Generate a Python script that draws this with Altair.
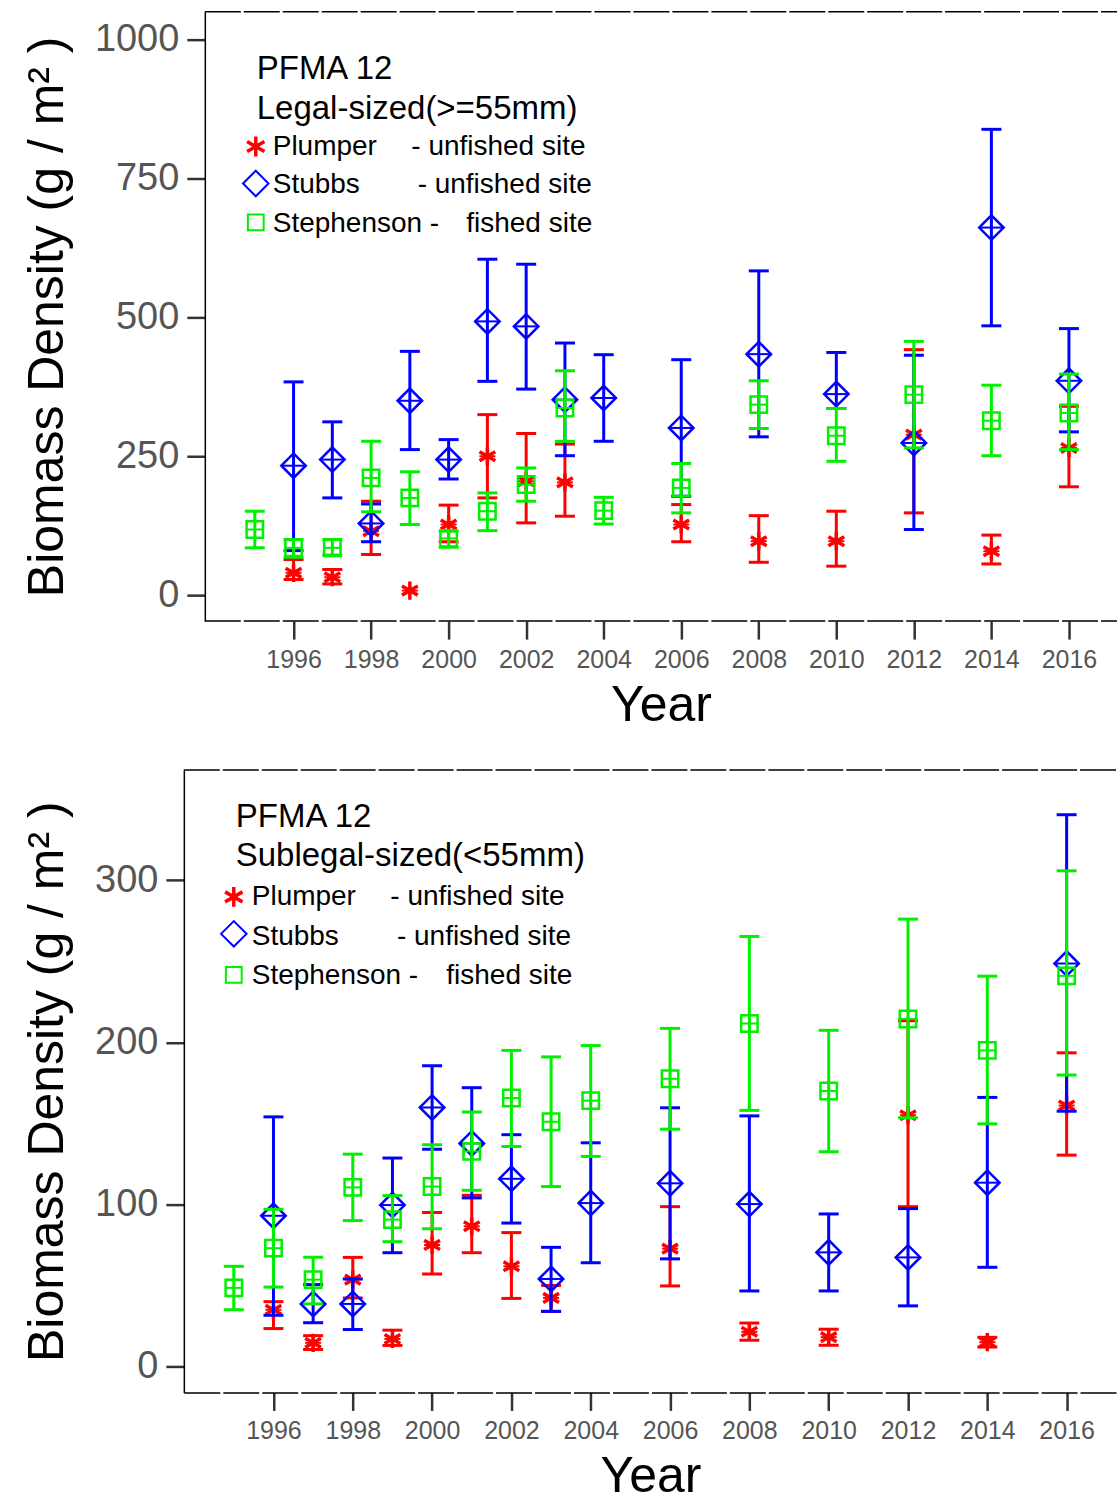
import altair as alt
import pandas as pd

# ---------------- Legal-sized (>=55mm) ----------------
leg_plumper_years = [1996, 1997, 1998, 1999, 2000, 2001, 2002, 2003, 2006, 2008, 2010, 2012, 2014, 2016]
leg_plumper_mean = [40, 32, 115, 8, 127, 250, 205, 203, 127, 97, 97, 289, 79, 265]
leg_plumper_lo = [28, 20, 73, None, 96, 175, 130, 142, 96, 59, 52, 148, 56, 195]
leg_plumper_hi = [64, 46, 169, None, 162, 325, 291, 272, 163, 143, 151, 442, 108, 340]

leg_stubbs_years = [1996, 1997, 1998, 1999, 2000, 2001, 2002, 2003, 2004, 2006, 2008, 2010, 2012, 2014, 2016]
leg_stubbs_mean = [233, 244, 129, 350, 244, 493, 484, 352, 355, 301, 434, 362, 274, 662, 386]
leg_stubbs_lo = [80, 175, 96, 262, 209, 385, 371, 251, 277, 178, 285, 336, 118, 485, 294]
leg_stubbs_hi = [384, 312, 164, 439, 280, 605, 596, 454, 433, 424, 584, 437, 432, 839, 480]

leg_steph_years = [1995, 1996, 1997, 1998, 1999, 2000, 2001, 2002, 2003, 2004, 2006, 2008, 2010, 2012, 2014, 2016]
leg_steph_mean = [118, 85, 85, 211, 175, 102, 151, 199, 337, 152, 193, 343, 287, 361, 314, 328]
leg_steph_lo = [85, 68, 72, 150, 127, 86, 116, 169, 277, 128, 148, 300, 241, 265, 251, 262]
leg_steph_hi = [151, 100, 100, 277, 222, 115, 184, 229, 404, 176, 237, 386, 336, 457, 378, 398]

# ---------------- Sublegal-sized (<55mm) ----------------
sub_plumper_years = [1996, 1997, 1998, 1999, 2000, 2001, 2002, 2003, 2006, 2008, 2010, 2012, 2014, 2016]
sub_plumper_mean = [35, 14.6, 53.6, 17, 75, 86.5, 61.8, 42.3, 72.7, 21.4, 18.1, 155, 15, 161]
sub_plumper_lo = [23.4, 10.5, 42.3, 13, 57, 70.2, 42, 34, 49.7, 16.2, 13.1, 98.6, 12, 130.4]
sub_plumper_hi = [40, 19, 67.3, 22.4, 95, 105.6, 82.6, 50, 98.6, 26.8, 23, 213.3, 18, 193.5]

sub_stubbs_years = [1996, 1997, 1998, 1999, 2000, 2001, 2002, 2003, 2004, 2006, 2008, 2010, 2012, 2014, 2016]
sub_stubbs_mean = [93, 38.6, 38.6, 99.6, 159.8, 137.6, 115.8, 54, 100.8, 113, 100.2, 70.4, 67.3, 113.4, 248.6]
sub_stubbs_lo = [31.6, 27, 22.8, 70.2, 134, 104, 88.5, 34, 64, 66.4, 46.6, 46.6, 37.4, 61.2, 157.5]
sub_stubbs_hi = [154, 50.5, 54, 128.6, 185.5, 172, 143, 73.5, 138, 159.6, 154.6, 94.1, 97.4, 166, 340.4]

sub_steph_years = [1995, 1996, 1997, 1998, 1999, 2000, 2001, 2002, 2003, 2004, 2006, 2008, 2010, 2012, 2014, 2016]
sub_steph_mean = [48.5, 73, 53.6, 110.5, 90.6, 111, 132.7, 165.6, 151, 164, 177.5, 211.6, 170, 214.4, 195, 241]
sub_steph_lo = [35, 49, 38.6, 90, 77, 85, 108.7, 135.7, 111, 129.6, 146.4, 158, 132.5, 153.4, 149.7, 179.8]
sub_steph_hi = [61.8, 97, 67.4, 131, 105.4, 136.8, 157, 195, 191, 198, 208.6, 265.3, 207.4, 276, 240.8, 305.8]

x_tick_years = [1996, 1998, 2000, 2002, 2004, 2006, 2008, 2010, 2012, 2014, 2016]
top_y_ticks = [0, 250, 500, 750, 1000]
bottom_y_ticks = [0, 100, 200, 300]

FONT = "Liberation Sans"
RED, BLUE, GREEN = "#ff0000", "#0000ff", "#00f000"
STAR = "M0,-1L0,1M-0.87,-0.5L0.87,0.5M-0.87,0.5L0.87,-0.5"
Y_TITLE = "Biomass Density (g / m\u00b2 )"
DASH = [36, 3]

dummy = pd.DataFrame({"a": [0]})


def frame(years, mean, lo, hi):
    return pd.DataFrame({"year": years, "mean": mean, "lo": lo, "hi": hi})


def site_layers(df, color, shape, size, sym_w, sw, xs, ys):
    base = alt.Chart(df)
    rule = base.mark_rule(color=color, strokeWidth=3).encode(
        x=xs("year"), y=ys("lo"), y2="hi:Q")
    cap_lo = base.mark_tick(orient="horizontal", size=20, thickness=3, color=color,
                            opacity=1).encode(x=xs("year"), y=ys("lo"))
    cap_hi = base.mark_tick(orient="horizontal", size=20, thickness=3, color=color,
                            opacity=1).encode(x=xs("year"), y=ys("hi"))
    mid = base.mark_tick(orient="horizontal", size=sym_w, thickness=2, color=color,
                         opacity=1).encode(x=xs("year"), y=ys("mean"))
    pt = base.mark_point(shape=shape, filled=False, size=size, strokeWidth=sw,
                         color=color, opacity=1).encode(x=xs("year"), y=ys("mean"))
    return [rule, cap_lo, cap_hi, mid, pt]


def txt(label, px, py, size, color="black"):
    return alt.Chart(dummy).mark_text(text=label, align="left", baseline="alphabetic",
                                      font=FONT, fontSize=size, color=color).encode(
        x=alt.value(px), y=alt.value(py))


def sym(shape, px, py, size, color, sw=2.0):
    return alt.Chart(dummy).mark_point(shape=shape, filled=False, size=size, strokeWidth=sw,
                                       color=color, opacity=1).encode(
        x=alt.value(px), y=alt.value(py))


def hline(x0, x1, y):
    return alt.Chart(dummy).mark_rule(color="black", strokeWidth=1.5, strokeDash=DASH).encode(
        x=alt.value(x0), x2=alt.value(x1), y=alt.value(y))


def panel(data, xdomain, ydomain, yticks, width, height, subtitle, leg, inset):
    xscale = alt.Scale(domain=xdomain, nice=False, zero=False)
    xaxis = alt.Axis(values=x_tick_years, format="d", title="Year", domain=(inset == 0),
                     titleX=(inset + width) / 2)
    yscale = alt.Scale(domain=ydomain, nice=False, zero=False)
    yaxis = alt.Axis(values=yticks, format="d", title=Y_TITLE, offset=-inset)

    def xs(f):
        return alt.X(f"{f}:Q", scale=xscale, axis=xaxis)

    def ys(f):
        return alt.Y(f"{f}:Q", scale=yscale, axis=yaxis)

    layers = []
    specs = [(RED, STAR, 330, 16, 3.5), (BLUE, "diamond", 600, 24, 2.5),
             (GREEN, "square", 270, 18, 2.5)]
    for df, (c, s, sz, w, sw) in zip(data, specs):
        layers += site_layers(df, c, s, sz, w, sw, xs, ys)

    layers.append(hline(inset, width, 0))
    if inset:
        layers.append(hline(inset, width, height))

    (tx, t1, t2, rows, symx, symys, col2) = leg
    layers.append(txt("PFMA 12", tx, t1, 33))
    layers.append(txt(subtitle, tx, t2, 33))
    names = ["Plumper", "Stubbs", "Stephenson -"]
    seconds = ["- unfished site", "- unfished site", "fished site"]
    for i in range(3):
        layers.append(txt(names[i], tx + 16, rows[i], 28))
        layers.append(txt(seconds[i], col2[i], rows[i], 28))
    layers.append(sym(STAR, symx, symys[0], 400, RED, 3.5))
    layers.append(sym("diamond", symx, symys[1], 650, BLUE, 2))
    layers.append(sym("square", symx, symys[2], 250, GREEN, 2))

    return alt.layer(*layers).properties(width=width, height=height)


INSET = 21
top = panel(
    [frame(leg_plumper_years, leg_plumper_mean, leg_plumper_lo, leg_plumper_hi),
     frame(leg_stubbs_years, leg_stubbs_mean, leg_stubbs_lo, leg_stubbs_hi),
     frame(leg_steph_years, leg_steph_mean, leg_steph_lo, leg_steph_hi)],
    [1993.17, 2017.24], [-47, 1051], top_y_ticks, 934, 610, "Legal-sized(>=55mm)",
    (52 + INSET, 67, 107, [143, 182, 221], 51 + INSET, [135, 172, 211],
     [206.7 + INSET, 213 + INSET, 261.7 + INSET]),
    INSET)

bottom = panel(
    [frame(sub_plumper_years, sub_plumper_mean, sub_plumper_lo, sub_plumper_hi),
     frame(sub_stubbs_years, sub_stubbs_mean, sub_stubbs_lo, sub_stubbs_hi),
     frame(sub_steph_years, sub_steph_mean, sub_steph_lo, sub_steph_hi)],
    [1993.74, 2017.27], [-16, 368], bottom_y_ticks, 934, 623, "Sublegal-sized(<55mm)",
    (52, 57, 96, [135, 175, 214], 50, [127, 164, 205], [206.7, 213.3, 262.7]),
    0)

chart = alt.concat(top, bottom, columns=1).properties(
    spacing=39, background="white",
    padding={"left": 22, "top": 10, "right": 0, "bottom": 0}
).configure_view(stroke=None).configure_axis(
    labelFont=FONT, titleFont=FONT, domainColor="black", domainWidth=1.5,
    tickColor="#333333", tickWidth=2.5, tickSize=18, labelColor="#555555",
    titleColor="black", titleFontWeight="normal", grid=False
).configure_axisX(
    labelFontSize=25, labelPadding=8, titleFontSize=50, titlePadding=8, domainDash=DASH
).configure_axisY(
    labelFontSize=38, labelPadding=8, titleFontSize=50, titlePadding=22
)

chart.save("out.html", embed_options={"renderer": "svg", "actions": False})
